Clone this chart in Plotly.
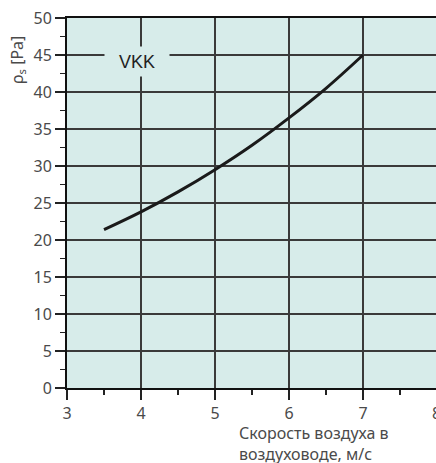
import plotly.graph_objects as go

# Data
velocity = [3.5, 4, 4.5, 5, 5.5, 6, 6.5, 7]
pressure = [21.4, 23.8, 26.5, 29.5, 32.8, 36.5, 40.5, 45]
x_ticks = [3, 4, 5, 6, 7]
y_ticks = [0, 5, 10, 15, 20, 25, 30, 35, 40, 45, 50]
series_label = "VKK"
x_title = "Скорость воздуха в<br>воздуховоде, м/с"
y_title = "ρ<sub>s</sub> [Pa]"

BG = "#d7ecea"
GRID = "#3a3a3a"
TXT = "#4a4a4a"
FONT = "Noto Sans"

W, H = 436, 463
L, T, B, R = 67, 18, 75, 0
px_per_unit = 74
plot_w = W - L - R
x_max = 3 + plot_w / px_per_unit

fig = go.Figure()
fig.add_trace(go.Scatter(
    x=velocity, y=pressure, mode="lines",
    line=dict(color="#1a1a1a", width=3, shape="spline"),
    hoverinfo="skip", showlegend=False,
))

fig.update_layout(
    width=W, height=H,
    margin=dict(l=L, r=R, t=T, b=B, pad=0),
    paper_bgcolor="white",
    plot_bgcolor=BG,
    font=dict(family=FONT, color=TXT, size=16),
    xaxis=dict(
        range=[3, x_max], tickvals=x_ticks, ticktext=[str(v) for v in x_ticks],
        showgrid=True, gridcolor=GRID, gridwidth=1.5,
        showline=True, linecolor="#111", linewidth=2, mirror=True,
        ticks="outside", ticklen=10, tickwidth=1.5, tickcolor="#222",
        minor=dict(dtick=0.5, tick0=3, ticks="outside", ticklen=5, tickwidth=1.5,
                   tickcolor="#222", showgrid=False),
        tickfont=dict(family=FONT, size=16, color=TXT),
        zeroline=False, fixedrange=True,
    ),
    yaxis=dict(
        range=[0, 50], tickvals=y_ticks, ticktext=[str(v) for v in y_ticks],
        showgrid=True, gridcolor=GRID, gridwidth=1.5,
        showline=True, linecolor="#111", linewidth=2, mirror=False,
        ticks="outside", ticklen=10, tickwidth=1.5, tickcolor="#222",
        minor=dict(dtick=2.5, tick0=0, ticks="outside", ticklen=5, tickwidth=1.5,
                   tickcolor="#222", showgrid=False),
        tickfont=dict(family=FONT, size=16, color=TXT),
        zeroline=False, fixedrange=True,
    ),
)

plot_h = H - T - B
fig.add_annotation(
    x=3.946, y=44.12, xref="x", yref="y",
    text=series_label, showarrow=False,
    font=dict(family="Liberation Sans", size=18, color="#222"),
    bgcolor=BG, width=64, height=29, borderpad=0,
)
# tick label "8" partially cut at the right edge
fig.add_annotation(
    x=(437 - L) / plot_w, y=-(412.5 - (H - B)) / plot_h, xref="paper", yref="paper",
    text="8", showarrow=False, xanchor="center", yanchor="middle",
    font=dict(family=FONT, size=16, color=TXT),
)
fig.add_annotation(
    x=(237 - L) / plot_w, y=-(443.5 - (H - B)) / plot_h, xref="paper", yref="paper",
    text=x_title, showarrow=False, xanchor="left", yanchor="middle", align="left",
    font=dict(family=FONT, size=16, color=TXT),
)
fig.add_annotation(
    x=(18 - L) / plot_w, y=((H - B) - 60) / plot_h, xref="paper", yref="paper",
    text=y_title, showarrow=False, textangle=-90, xanchor="center", yanchor="middle",
    font=dict(family=FONT, size=16, color=TXT),
)

fig.write_html(
    "out.html",
    config={"displayModeBar": False, "staticPlot": True},
    post_script="document.body.style.margin='0';document.body.style.overflow='hidden';",
)
